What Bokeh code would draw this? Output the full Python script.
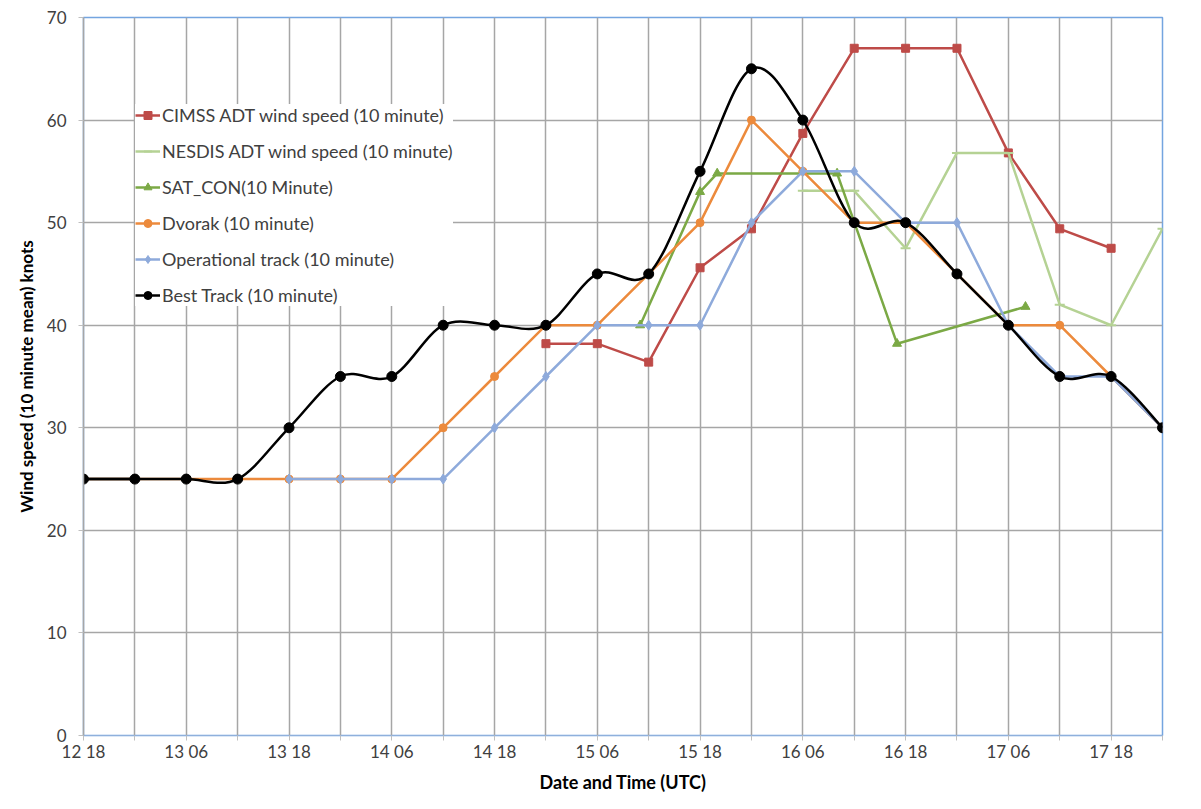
import numpy as np
from bokeh.plotting import figure
from bokeh.models import FixedTicker, Legend, LegendItem, Range1d
from bokeh.embed import file_html
from bokeh.resources import INLINE

# ---- data (hours since 12 18 UTC) ----
hours_6h = [0, 6, 12, 18, 24, 30, 36, 42, 48, 54, 60, 66, 72, 78, 84, 90, 96, 102, 108, 114, 120, 126]
tick_hours = [0, 12, 24, 36, 48, 60, 72, 84, 96, 108, 120]
tick_labels = ["12 18", "13 06", "13 18", "14 06", "14 18", "15 06", "15 18", "16 06", "16 18", "17 06", "17 18"]

best_track = [25, 25, 25, 25, 30, 35, 35, 40, 40, 40, 45, 45, 55, 65, 60, 50, 50, 45, 40, 35, 35, 30]

dvorak_hours = hours_6h
dvorak = [25, 25, 25, 25, 25, 25, 25, 30, 35, 40, 40, 45, 50, 60, 55, 50, 50, 45, 40, 40, 35, 30]

oper_hours = hours_6h[4:]
operational = [25, 25, 25, 25, 30, 35, 40, 40, 40, 50, 55, 55, 50, 50, 40, 35, 35, 30]

cimss_hours = hours_6h[9:21]
cimss = [38.2, 38.2, 36.4, 45.6, 49.4, 58.7, 67, 67, 67, 56.8, 49.4, 47.5]

nesdis_hours = hours_6h[14:22]
nesdis = [53.1, 53.1, 47.5, 56.8, 56.8, 42.0, 40.0, 49.4]

satcon_hours = [65, 72, 74, 88, 95, 110]
satcon = [40, 53, 54.8, 54.8, 38.2, 41.8]

# ---- figure ----
FONT = "Lato"
p = figure(width=1185, height=795, output_backend="svg", toolbar_location=None,
           x_range=Range1d(0, 126), y_range=Range1d(0, 70),
           min_border_left=83, min_border_right=23, min_border_top=17, min_border_bottom=57)
p.background_fill_color = "white"
p.border_fill_color = "white"
p.outline_line_color = "#74a5e0"
p.outline_line_width = 1.5

grid_col = "#a6a6a6"
p.xaxis.ticker = FixedTicker(ticks=hours_6h)
p.xaxis.major_label_overrides = {h: "" for h in hours_6h}
p.xaxis.major_label_overrides.update({h: lab for h, lab in zip(tick_hours, tick_labels)})
p.yaxis.ticker = FixedTicker(ticks=[0, 10, 20, 30, 40, 50, 60, 70])
p.xgrid.ticker = FixedTicker(ticks=hours_6h)
for g in (p.xgrid, p.ygrid):
    g.grid_line_color = grid_col
    g.grid_line_width = 1.5

for ax in (p.xaxis, p.yaxis):
    ax.major_tick_out = 5
    ax.major_tick_in = 0
    ax.minor_tick_out = 0
    ax.minor_tick_in = 0
    ax.major_tick_line_color = "#bfbfbf"
    ax.major_label_text_font = FONT
    ax.major_label_text_font_size = "17px"
    ax.major_label_text_color = "#404040"
    ax.axis_label_text_font = FONT
    ax.axis_label_text_font_style = "bold"
    ax.axis_label_text_color = "#000000"

p.xaxis.axis_label_text_font_size = "18px"
p.yaxis.axis_label_text_font_size = "17px"
p.xaxis.axis_line_color = "#8fb0dc"
p.yaxis.axis_line_color = grid_col
p.yaxis.axis_line_width = 1.5
p.xaxis.major_label_standoff = 0
p.yaxis.major_label_standoff = 12
p.xaxis.axis_label = "Date and Time (UTC)"
p.yaxis.axis_label = "Wind speed (10 minute mean) knots"
p.xaxis.axis_label_standoff = 6
p.yaxis.axis_label_standoff = 7

LW = 2.5
items = []

def series(xs, ys, color, marker, size, label):
    lr = p.line(xs, ys, line_color=color, line_width=LW)
    sr = p.scatter(xs, ys, marker=marker, size=size, fill_color=color, line_color=color,
                   line_width=2 if marker == "dash" else 1)
    items.append(LegendItem(label=label, renderers=[lr, sr]))

series(cimss_hours, cimss, "#be4b48", "square", 8, "CIMSS ADT wind speed (10 minute)")
series(nesdis_hours, nesdis, "#b5d294", "dash", 10, "NESDIS ADT wind speed (10 minute)")
series(satcon_hours, satcon, "#7ba945", "triangle", 9, "SAT_CON(10 Minute)")
series(dvorak_hours, dvorak, "#ec8a3c", "circle", 8, "Dvorak (10 minute)")
series(oper_hours, operational, "#8eaadb", "diamond", 10, "Operational track (10 minute)")

# Best track: smoothed (Catmull-Rom style bezier, as spreadsheet "smooth line")
bx = np.array(hours_6h, dtype=float)
by = np.array(best_track, dtype=float)
px = np.concatenate([[bx[0]], bx, [bx[-1]]])
py = np.concatenate([[by[0]], by, [by[-1]]])
x0, y0 = bx[:-1], by[:-1]
x1, y1 = bx[1:], by[1:]
cx0 = x0 + (px[2:-1] - px[:-3]) / 6.0
cy0 = y0 + (py[2:-1] - py[:-3]) / 6.0
cx1 = x1 - (px[3:] - px[1:-2]) / 6.0
cy1 = y1 - (py[3:] - py[1:-2]) / 6.0
br = p.bezier(x0=x0, y0=y0, x1=x1, y1=y1, cx0=cx0, cy0=cy0, cx1=cx1, cy1=cy1,
              line_color="black", line_width=LW)
bl = p.line(bx[:2], by[:2], line_color="black", line_width=LW)
bs = p.scatter(bx, by, marker="circle", size=10, fill_color="black", line_color="black")
items.append(LegendItem(label="Best Track (10 minute)", renderers=[bl, bs]))

legend = Legend(items=items, location=(52, 429))
legend.label_text_font = FONT
legend.label_text_font_size = "18px"
legend.label_text_color = "#404040"
legend.label_height = 20
legend.glyph_height = 20
legend.glyph_width = 25
legend.label_standoff = 2
legend.spacing = 14
legend.padding = 8
legend.margin = 0
legend.border_line_color = None
legend.background_fill_color = "white"
legend.background_fill_alpha = 1.0
p.add_layout(legend, "center")

open("out.html", "w").write(file_html(p, INLINE))
